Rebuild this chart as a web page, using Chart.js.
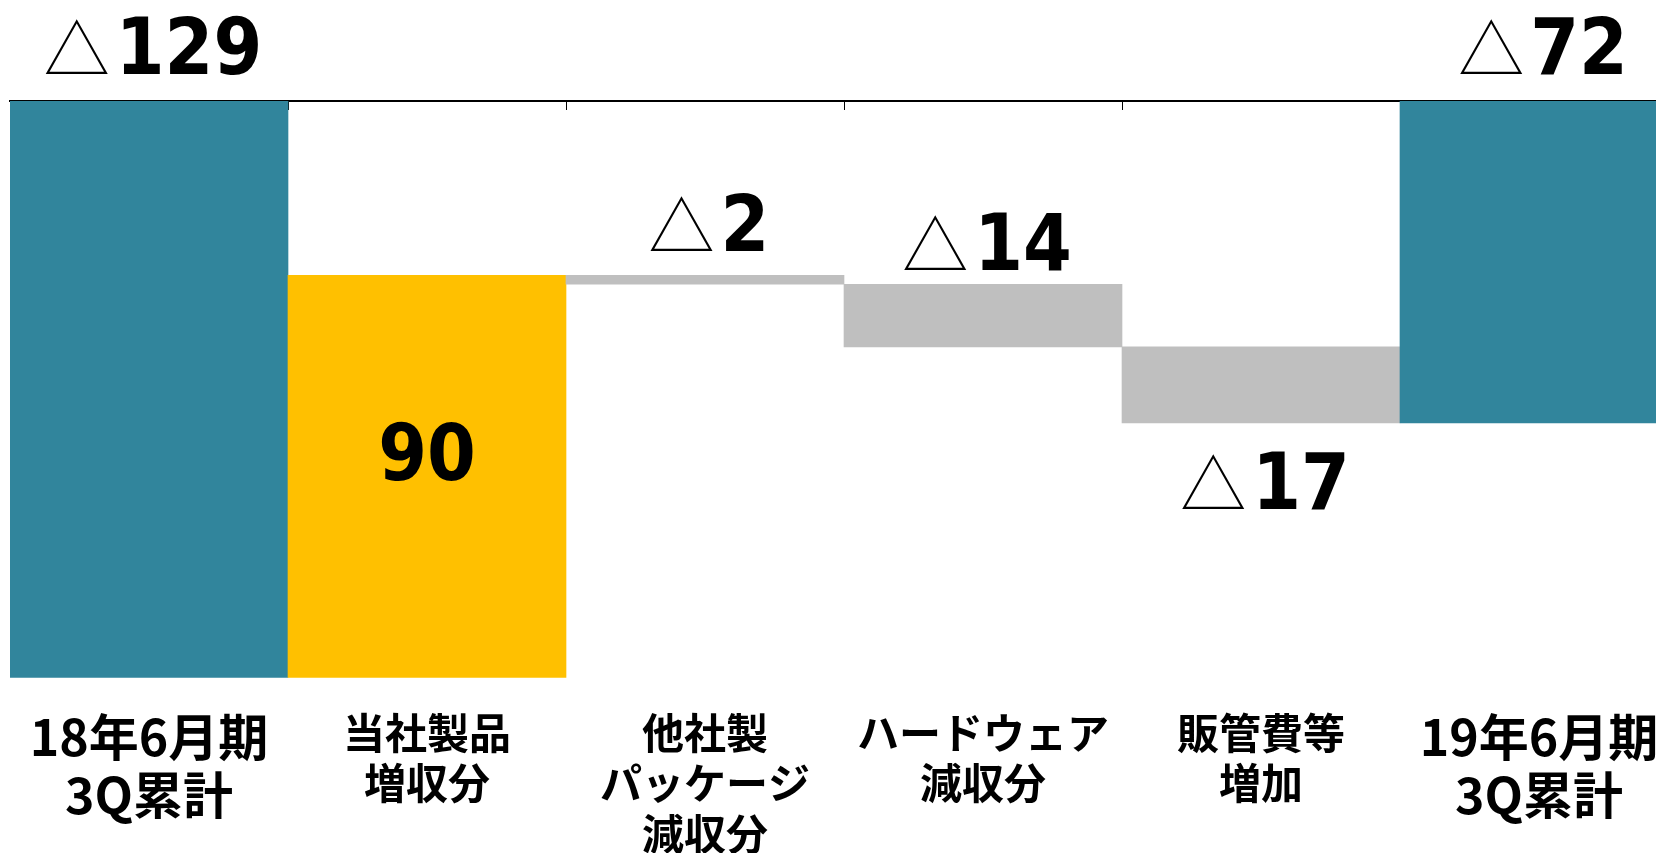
<!DOCTYPE html>
<html>
<head>
<meta charset="utf-8">
<script src="https://cdn.jsdelivr.net/npm/chart.js@4.4.1/dist/chart.umd.min.js"></script>
<style>
  html, body { margin: 0; padding: 0; background: #ffffff; overflow: hidden; }
  #wrap { position: absolute; left: 0; top: 0; width: 1680px; height: 853px; }
</style>
</head>
<body>
<div id="wrap"><canvas id="c" width="1680" height="853"></canvas></div>
<script>
// ---- data ----
const categories = [
  ['18年6月期', '3Q累計'],
  ['当社製品', '増収分'],
  ['他社製', 'パッケージ', '減収分'],
  ['ハードウェア', '減収分'],
  ['販管費等', '増加'],
  ['19年6月期', '3Q累計']
];
const startTotal = -129;            // 18年6月期 3Q累計
const changes = [90, -2, -14, -17]; // 増減要因
const endTotal = -72;               // 19年6月期 3Q累計

// ---- derived waterfall ranges ----
const ranges = [[0, startTotal]];
let running = startTotal;
changes.forEach(c => { ranges.push([running, running + c]); running += c; });
ranges.push([0, endTotal]);
const labelValues = [startTotal, ...changes, endTotal];
const yMin = Math.min(0, ...ranges.flat());

const barColors = ['#31859C', '#FFC000', '#BFBFBF', '#BFBFBF', '#BFBFBF', '#31859C'];

const wfLabels = {
  id: 'wfLabels',
  afterDatasetsDraw(chart, args, opts) {
    const ctx = chart.ctx;
    const meta = chart.getDatasetMeta(0);
    meta.data.forEach((bar, i) => {
      const v = labelValues[i];
      const neg = v < 0;
      const num = String(Math.abs(v));
      const p = opts.place[i];
      const top = Math.min(bar.y, bar.base);
      const bottom = Math.max(bar.y, bar.base);
      let baseline;
      if (p.at === 'top') baseline = top + p.dy;
      else if (p.at === 'bottom') baseline = bottom + p.dy;
      else baseline = (top + bottom) / 2 + p.dy;
      ctx.save();
      ctx.fillStyle = '#000000';
      ctx.textBaseline = 'alphabetic';
      ctx.textAlign = 'left';
      ctx.font = opts.numFont;
      const numW = ctx.measureText(num).width;
      let triW = 0;
      if (neg) { ctx.font = opts.triFont; triW = ctx.measureText('△').width; }
      const total = (neg ? triW + opts.gap : 0) + numW;
      let x = bar.x - total / 2 + (neg ? opts.shift : 0);
      if (neg) {
        ctx.font = opts.triFont;
        ctx.fillText('△', x, baseline + opts.triDy);
        x += triW + opts.gap;
      }
      ctx.font = opts.numFont;
      ctx.fillText(num, x, baseline);
      ctx.restore();
    });
  }
};

new Chart(document.getElementById('c'), {
  type: 'bar',
  data: {
    labels: categories,
    datasets: [{
      data: ranges,
      backgroundColor: barColors,
      borderWidth: 0,
      barPercentage: 1.0,
      categoryPercentage: 1.0,
      xAxisID: 'x',
      yAxisID: 'y'
    }]
  },
  options: {
    responsive: false,
    animation: false,
    layout: { padding: { left: 10, right: 2, top: 101, bottom: 0 } },
    plugins: {
      legend: { display: false },
      tooltip: { enabled: false },
      wfLabels: {
        numFont: 'bold 78px "DejaVu Sans Condensed", "DejaVu Sans", sans-serif',
        triFont: '300 66px "Noto Sans CJK JP", sans-serif',
        triDy: 0,
        gap: 6,
        shift: 4,
        place: [
          { at: 'top', dy: -27 },
          { at: 'center', dy: 3 },
          { at: 'top', dy: -24 },
          { at: 'top', dy: -14 },
          { at: 'bottom', dy: 86 },
          { at: 'top', dy: -27 }
        ]
      }
    },
    scales: {
      x: {
        type: 'category',
        position: 'bottom',
        offset: true,
        grid: { display: false, drawTicks: false, offset: true },
        border: { display: false },
        afterFit(scale) {
          scale.height = 175.3;
          scale.paddingLeft = 0;
          scale.paddingRight = 0;
        },
        ticks: {
          autoSkip: false,
          maxRotation: 0,
          minRotation: 0,
          padding: 30,
          color: '#000000',
          font: (ctx) => {
            const end = ctx.index === 0 || ctx.index === categories.length - 1;
            return {
              family: '"Noto Sans CJK JP", sans-serif',
              weight: 'bold',
              size: end ? 50 : 42,
              lineHeight: end ? 1.16 : 1.2
            };
          }
        }
      },
      x2: {
        type: 'category',
        position: 'top',
        offset: true,
        grid: {
          display: true,
          drawOnChartArea: false,
          drawTicks: true,
          tickLength: -9,
          color: '#000000',
          lineWidth: 1,
          offset: true
        },
        border: { display: true, color: '#000000', width: 2 },
        ticks: { display: false },
        afterFit(scale) {
          scale.height = 0;
          scale.paddingLeft = 0;
          scale.paddingRight = 0;
        }
      },
      y: {
        display: false,
        min: yMin,
        max: 0
      }
    }
  },
  plugins: [wfLabels]
});
</script>
</body>
</html>
